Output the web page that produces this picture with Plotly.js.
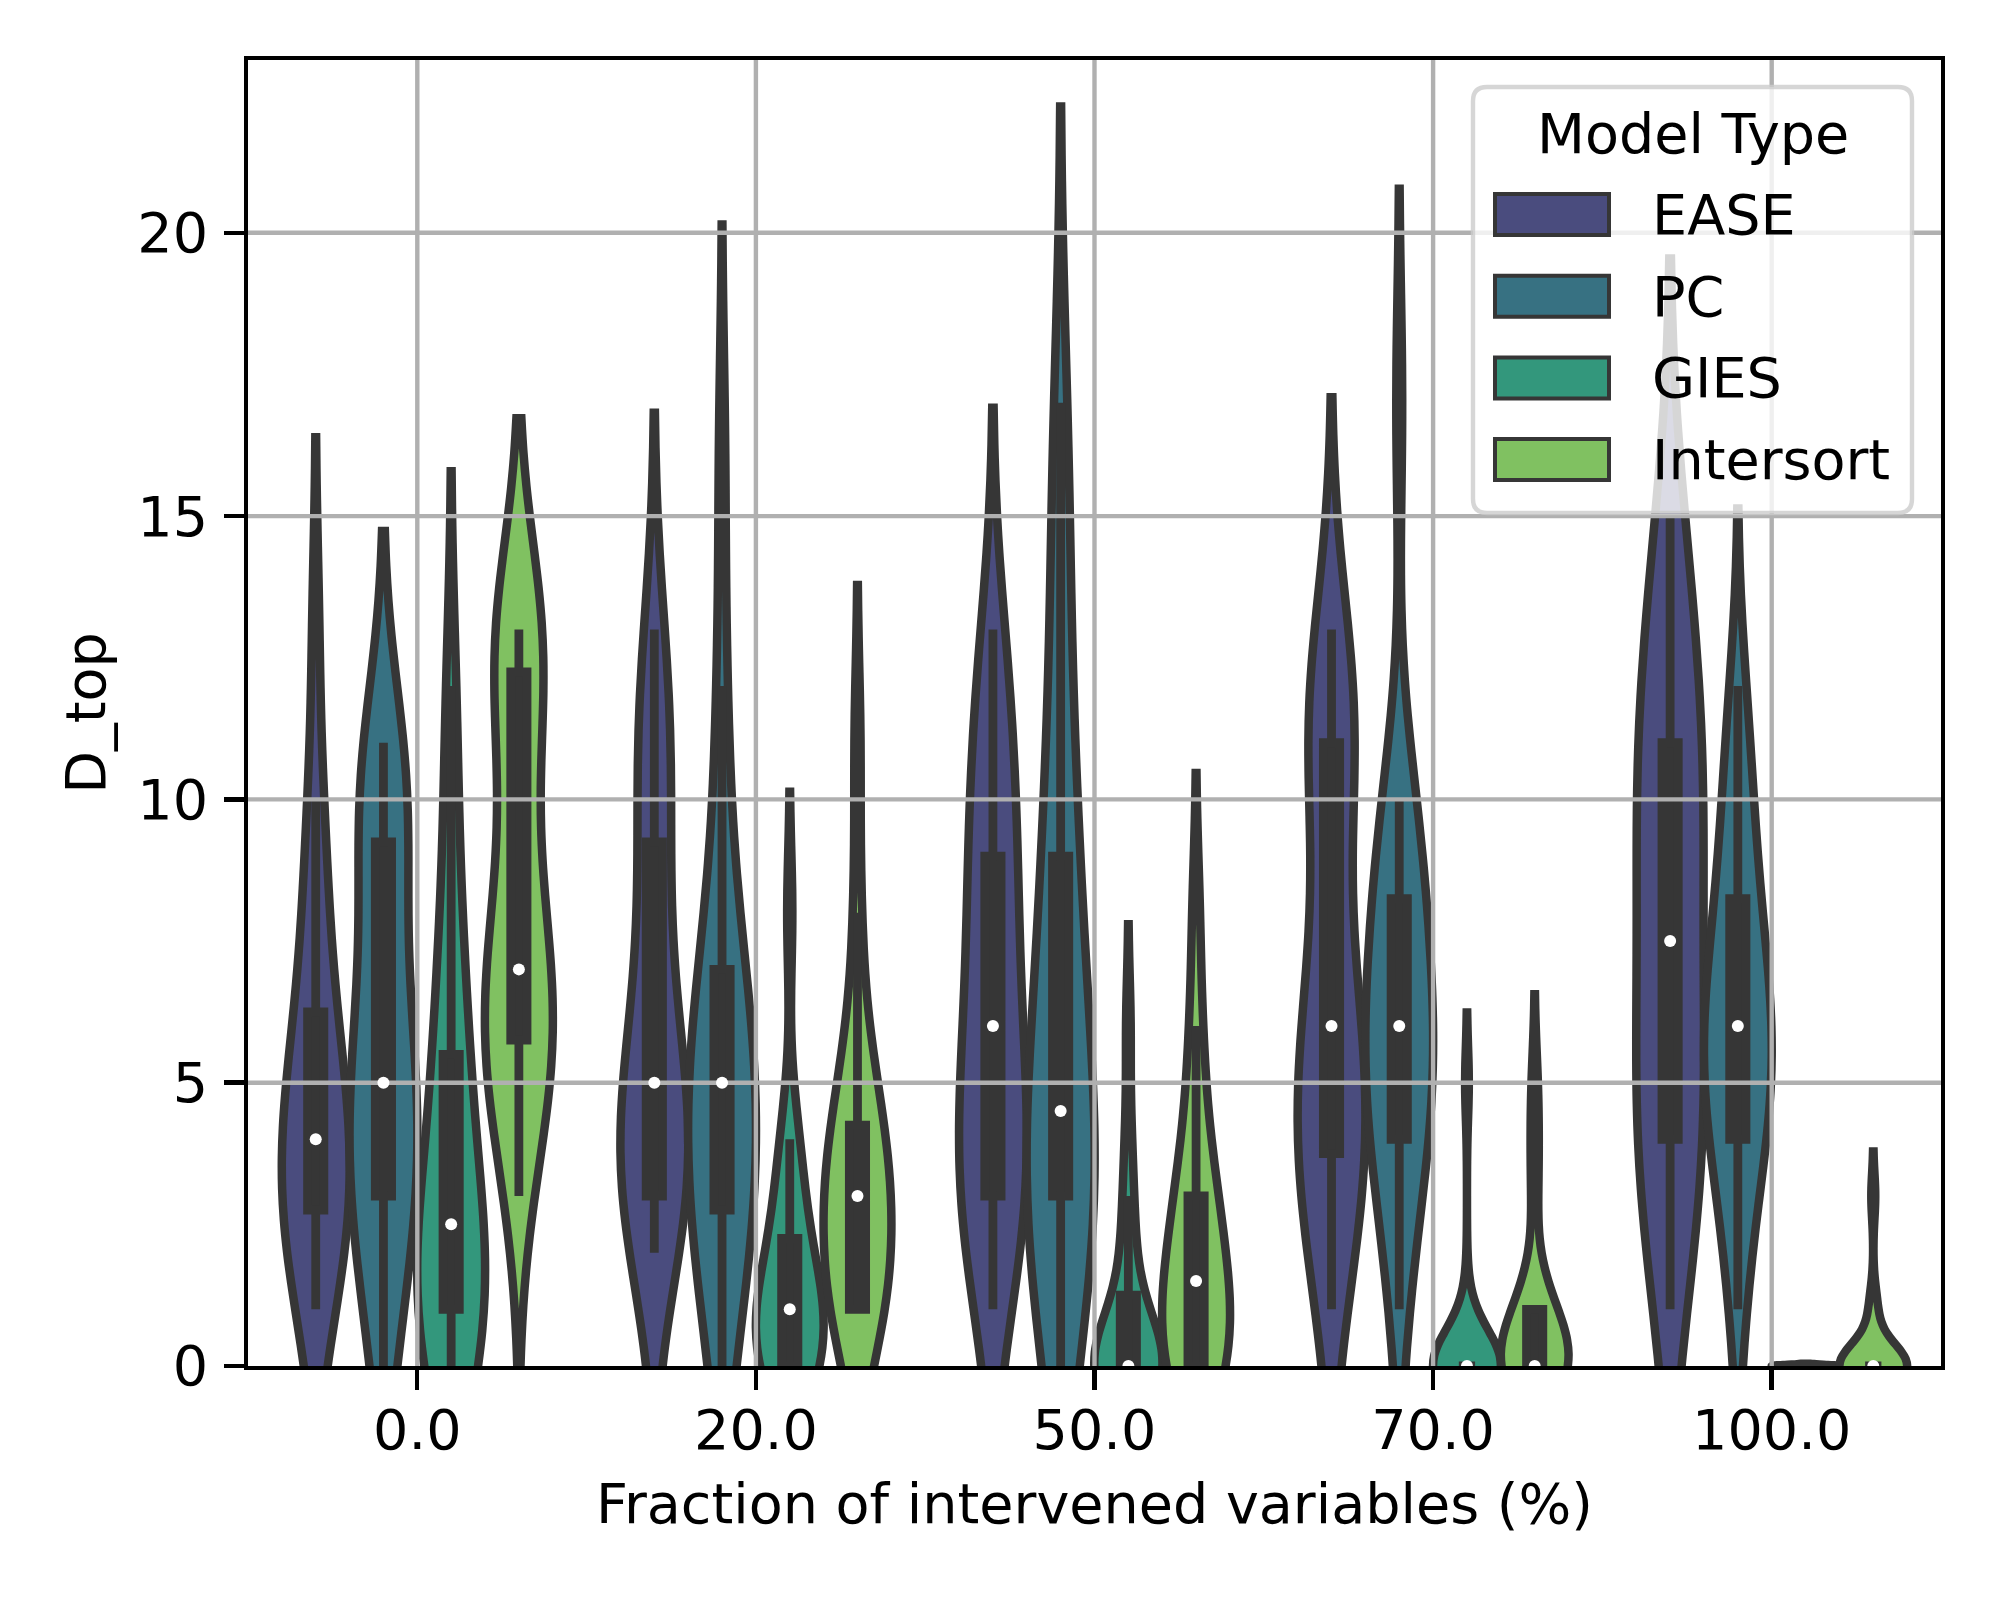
<!DOCTYPE html>
<html><head><meta charset="utf-8">
<script src="https://cdn.plot.ly/plotly-3.0.1.min.js"></script>
<style>html,body{margin:0;padding:0;background:#fff}</style>
</head><body>
<div id="chart" style="width:2000px;height:1600px"></div>
<script>
// ---------------- data ----------------
const categories = ["0.0", "20.0", "50.0", "70.0", "100.0"];
const models = ["EASE", "PC", "GIES", "Intersort"];

// D_top samples per intervention fraction (one array per category)
const easeDtop = [
  [1,1,2,2,2,3,3,3,4,4,4,4,5,5,6,6,7,8,9,10,13],
  [2,2,3,3,3,3,4,4,4,5,5,5,6,7,8,9,10,11,11,12,13],
  [1,2,2,3,3,3,4,4,5,5,6,6,7,8,9,9,9,11,11,12,13],
  [1,2,3,3,3,4,4,5,5,5,6,6,7,8,10,11,11,11,12,12,13],
  [1,2,3,4,4,4,5,6,7,7,8,9,10,10,11,11,12,13,14,15]
];
const pcDtop = [
  [0,1,2,2,3,3,4,4,4,5,5,6,6,7,8,9,10,10,10,11,11],
  [0,1,2,2,2,3,3,4,4,4,5,5,5,6,6,7,7,8,10,12,16],
  [0,1,2,2,3,3,3,4,4,4,5,6,7,8,9,9,11,13,15,17],
  [1,2,3,4,4,4,5,5,5,6,6,6,7,7,8,8,9,9,10,10,17],
  [1,2,3,4,4,4,5,5,5,6,6,6,7,7,7,8,9,9,10,11,12]
];
const giesDtop = [
  [0,0,0,1,1,1,1,2,2,2,3,3,4,5,5,6,7,8,10,12],
  [0,0,0,0,0,0,0,1,1,1,1,1,1,2,2,2,3,3,4,4,8],
  [0,0,0,0,0,0,0,0,0,0,0,0,0,0,0,1,2,2,3,4,6],
  [0,0,0,0,0,0,0,0,0,0,0,0,0,0,0,0,0,0,1,5],
  [0,0,0,0,0,0,0,0,0,0,0,0,0,0,0,0,0,0,0,0]
];
const intersortDtop = [
  [3,4,5,5,5,6,6,6,7,7,7,8,9,10,11,12,13,13,13,13,13],
  [1,1,1,1,1,1,2,2,3,3,3,3,3,4,4,4,5,5,6,8,11],
  [0,0,0,0,0,0,1,1,1,1,2,2,2,3,3,3,4,5,6,8],
  [0,0,0,0,0,0,0,0,0,0,0,0,0,1,1,1,1,1,3,4,5],
  [0,0,0,0,0,0,0,0,0,0,0,0,0,0,0,0,0,1,1,3]
];
const yTickValues = [0, 5, 10, 15, 20];
const xTitle = "Fraction of intervened variables (%)";
const yTitle = "D_top";
const legendTitle = "Model Type";

// ---------------- styling ----------------
const seriesByModel = [easeDtop, pcDtop, giesDtop, intersortDtop];
const fills = ['#4a4c7e', '#377182', '#33977c', '#80c161'];
const edge = '#363636';
const FONT = 'DejaVu Sans, sans-serif';
const FS = 55.6;
const W = 2000, H = 1600, L = 248, R = 1941, T = 60, B = 1366;
const yMax = 23.05;
const slot = 0.2;

function interp(s, p) {
  let n = p * s.length - 0.5;
  if (n < 0) return s[0];
  if (n > s.length - 1) return s[s.length - 1];
  const f = n % 1;
  return f * s[Math.ceil(n)] + (1 - f) * s[Math.floor(n)];
}
function stdev(a) {
  const m = a.reduce((x, y) => x + y, 0) / a.length;
  let v = 0; a.forEach(x => v += (x - m) * (x - m));
  return Math.sqrt(v / (a.length - 1));
}

const traces = [];
const medX = [], medY = [];
models.forEach((name, m) => {
  const off = -0.3 + slot * m;
  seriesByModel[m].forEach((vals, c) => {
    const xpos = c + off;
    const sd = stdev(vals);
    const bw = sd > 0 ? sd * Math.pow(vals.length, -0.2) : 0.02;
    traces.push({
      type: 'violin', name: name, x: vals.map(() => xpos), y: vals,
      width: slot, bandwidth: bw, spanmode: 'soft', scalemode: 'width',
      points: false, box: {visible: false}, meanline: {visible: false},
      fillcolor: fills[m], line: {color: edge, width: 8.5}, opacity: 1,
      showlegend: false, hoverinfo: 'y', zindex: 0
    });
    if (sd > 0) {
      traces.push({
        type: 'box', name: name, x: vals.map(() => xpos), y: vals,
        width: 0.048, whiskerwidth: 0, boxpoints: 'outliers',
        marker: {opacity: 0, size: 1}, fillcolor: edge,
        line: {color: edge, width: 8.8}, showlegend: false, hoverinfo: 'skip', zindex: 2
      });
      const s = vals.slice().sort((p, q) => p - q);
      medX.push(xpos); medY.push(interp(s, 0.5));
    }
  });
});

// grid lines drawn over the violin bodies (below the inner boxes)
const gx = [], gy = [];
yTickValues.filter(v => v > 0).forEach(v => { gx.push(-0.5, 4.5, null); gy.push(v, v, null); });
categories.forEach((_, i) => { gx.push(i, i, null); gy.push(0, yMax, null); });
traces.push({type: 'scatter', mode: 'lines', x: gx, y: gy, line: {color: '#b0b0b0', width: 4.4},
  hoverinfo: 'skip', showlegend: false, zindex: 1});

traces.push({type: 'scatter', mode: 'markers', x: medX, y: medY,
  marker: {color: 'white', size: 12, line: {width: 0}}, hoverinfo: 'y', showlegend: false, zindex: 3});

// ---------------- legend (drawn as shapes + annotations) ----------------
const px2x = px => (px - L) / (R - L);
const py2y = py => (B - py) / (B - T);
const shapes = [];
const annotations = [];
(function () {
  const x0 = 1473, x1 = 1912, y0 = 87, y1 = 513, r = 14;
  const X = px2x, Y = py2y;
  const path = `M ${X(x0 + r)},${Y(y0)} L ${X(x1 - r)},${Y(y0)} Q ${X(x1)},${Y(y0)} ${X(x1)},${Y(y0 + r)} ` +
    `L ${X(x1)},${Y(y1 - r)} Q ${X(x1)},${Y(y1)} ${X(x1 - r)},${Y(y1)} L ${X(x0 + r)},${Y(y1)} ` +
    `Q ${X(x0)},${Y(y1)} ${X(x0)},${Y(y1 - r)} L ${X(x0)},${Y(y0 + r)} Q ${X(x0)},${Y(y0)} ${X(x0 + r)},${Y(y0)} Z`;
  shapes.push({type: 'path', xref: 'paper', yref: 'paper', path: path, layer: 'above',
    fillcolor: 'rgba(255,255,255,0.8)', line: {color: 'rgba(204,204,204,0.8)', width: 4.4}});
  annotations.push({xref: 'paper', yref: 'paper', x: X((x0 + x1) / 2), y: Y(133), text: legendTitle,
    showarrow: false, xanchor: 'center', yanchor: 'middle', font: {family: FONT, size: FS, color: 'black'}});
  models.forEach((name, i) => {
    const cy = 214.5 + 81.7 * i;
    shapes.push({type: 'rect', xref: 'paper', yref: 'paper', layer: 'above',
      x0: X(1495), x1: X(1609), y0: Y(cy - 20.5), y1: Y(cy + 20.5),
      fillcolor: fills[i], line: {color: edge, width: 4}});
    annotations.push({xref: 'paper', yref: 'paper', x: X(1650), y: Y(cy), text: name,
      showarrow: false, xanchor: 'left', yanchor: 'middle', font: {family: FONT, size: FS, color: 'black'}});
  });
})();

const axisCommon = {
  showgrid: false, zeroline: false, showline: true, mirror: true,
  linecolor: 'black', linewidth: 4.4, ticks: 'outside', ticklen: 19.4,
  tickwidth: 4.4, tickcolor: 'black', tickfont: {family: FONT, size: FS, color: 'black'}
};
const layout = {
  width: W, height: H,
  margin: {l: L, r: W - R, t: T, b: H - B, pad: 0},
  paper_bgcolor: 'white', plot_bgcolor: 'white',
  font: {family: FONT, size: FS, color: 'black'},
  showlegend: false, violinmode: 'overlay', boxmode: 'overlay',
  xaxis: Object.assign({}, axisCommon, {
    range: [-0.5, 4.5], tickmode: 'array', tickvals: categories.map((_, i) => i), ticktext: categories,
    ticklabelstandoff: -8,
    title: {text: xTitle, font: {family: FONT, size: FS, color: 'black'}, standoff: 25}
  }),
  yaxis: Object.assign({}, axisCommon, {
    range: [0, yMax], tickmode: 'array', tickvals: yTickValues, ticktext: yTickValues.map(String),
    ticklabelstandoff: 5,
    title: {text: yTitle, font: {family: FONT, size: FS, color: 'black'}, standoff: 15}
  }),
  shapes: shapes, annotations: annotations
};
Plotly.newPlot('chart', traces, layout, {displayModeBar: false, staticPlot: true});
</script>
</body></html>
